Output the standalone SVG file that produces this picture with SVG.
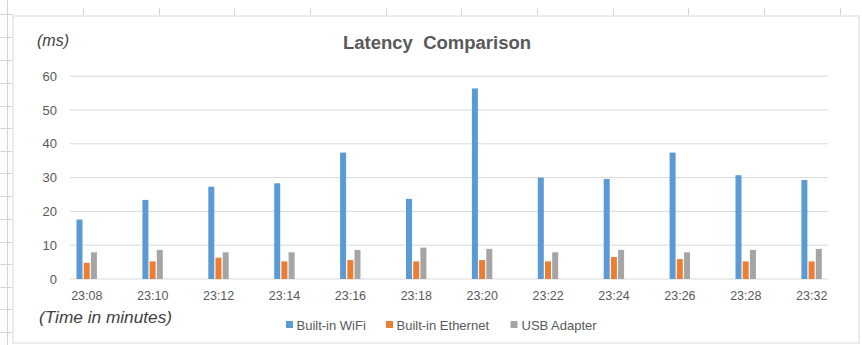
<svg xmlns="http://www.w3.org/2000/svg" width="862" height="345" viewBox="0 0 862 345">
<style>
.sheet{stroke:#d4d4d4;stroke-width:1;fill:none}
.grid{stroke:#d9d9d9;stroke-width:1}
.b{fill:#5b9bd5}
.o{fill:#ed7d31}
.g{fill:#a5a5a5}
.ax{font-family:"Liberation Sans",Arial,sans-serif;font-size:12.5px;fill:#595959}
.yl{font-family:"Liberation Sans",Arial,sans-serif;font-size:13px;fill:#595959;text-anchor:end}
.lg{font-family:"Liberation Sans",Arial,sans-serif;font-size:13px;fill:#595959}
.it{font-family:"Liberation Sans",Arial,sans-serif;font-size:16px;font-style:italic;fill:#404040}
.title{font-family:"Liberation Sans",Arial,sans-serif;font-size:18px;font-weight:bold;fill:#595959;text-anchor:middle;white-space:pre}
</style>
<rect width="862" height="345" fill="#ffffff"/>
<g id="sheet">
<line class="sheet" x1="7.5" y1="0" x2="7.5" y2="345"/>
<path class="sheet" d="M0 14.5H13M0 37.5H13M0 60.5H13M0 83.5H13M0 106.5H13M0 128.5H13M0 151.5H13M0 173.5H13M0 196.5H13M0 219.5H13M0 242.5H13M0 264.5H13M0 287.5H13M0 309.5H13M0 332.5H13"/>
<path class="sheet" d="M83.5 8V16M159.5 8V16M234.5 8V16M310.5 8V16M386.5 8V16M461.5 8V16M537.5 8V16M613.5 8V16M688.5 8V16M764.5 8V16M840.5 8V16"/>
</g>
<rect id="frame" x="13" y="16" width="846" height="327" fill="#ffffff" stroke="#ececec" stroke-width="2"/>
<g id="gridlines">
<line class="grid" x1="70" y1="279" x2="828" y2="279"/>
<line class="grid" x1="70" y1="245.2" x2="828" y2="245.2"/>
<line class="grid" x1="70" y1="211.4" x2="828" y2="211.4"/>
<line class="grid" x1="70" y1="177.6" x2="828" y2="177.6"/>
<line class="grid" x1="70" y1="143.8" x2="828" y2="143.8"/>
<line class="grid" x1="70" y1="110" x2="828" y2="110"/>
<line class="grid" x1="70" y1="76.2" x2="828" y2="76.2"/>
</g>
<g id="y-axis">
<text class="yl" x="57" y="283.5">0</text>
<text class="yl" x="57" y="249.7">10</text>
<text class="yl" x="57" y="215.9">20</text>
<text class="yl" x="57" y="182.1">30</text>
<text class="yl" x="57" y="148.3">40</text>
<text class="yl" x="57" y="114.5">50</text>
<text class="yl" x="57" y="80.7">60</text>
</g>
<text id="title" class="title" x="437" y="48.5" xml:space="preserve" textLength="188" lengthAdjust="spacingAndGlyphs">Latency  Comparison</text>
<text id="y-unit" class="it" x="37" y="46">(ms)</text>
<text id="x-unit" class="it" x="39" y="323" textLength="133" lengthAdjust="spacingAndGlyphs">(Time in minutes)</text>
<g id="c0" transform="translate(76.5,0)"><rect class="b" x="0" y="219.5" width="6" height="59.5"/><rect class="o" x="7.2" y="262.8" width="6" height="16.2"/><rect class="g" x="14.4" y="252.3" width="6" height="26.7"/><text class="ax" x="10.3" y="300" text-anchor="middle">23:08</text></g>
<g id="c1" transform="translate(142.4,0)"><rect class="b" x="0" y="199.9" width="6" height="79.1"/><rect class="o" x="7.2" y="261.4" width="6" height="17.6"/><rect class="g" x="14.4" y="249.9" width="6" height="29.1"/><text class="ax" x="10.3" y="300" text-anchor="middle">23:10</text></g>
<g id="c2" transform="translate(208.3,0)"><rect class="b" x="0" y="186.7" width="6" height="92.3"/><rect class="o" x="7.2" y="257.7" width="6" height="21.3"/><rect class="g" x="14.4" y="252.3" width="6" height="26.7"/><text class="ax" x="10.3" y="300" text-anchor="middle">23:12</text></g>
<g id="c3" transform="translate(274.2,0)"><rect class="b" x="0" y="183.3" width="6" height="95.7"/><rect class="o" x="7.2" y="261.4" width="6" height="17.6"/><rect class="g" x="14.4" y="252.3" width="6" height="26.7"/><text class="ax" x="10.3" y="300" text-anchor="middle">23:14</text></g>
<g id="c4" transform="translate(340.1,0)"><rect class="b" x="0" y="152.6" width="6" height="126.4"/><rect class="o" x="7.2" y="260.1" width="6" height="18.9"/><rect class="g" x="14.4" y="249.9" width="6" height="29.1"/><text class="ax" x="10.3" y="300" text-anchor="middle">23:16</text></g>
<g id="c5" transform="translate(406,0)"><rect class="b" x="0" y="198.9" width="6" height="80.1"/><rect class="o" x="7.2" y="261.4" width="6" height="17.6"/><rect class="g" x="14.4" y="247.6" width="6" height="31.4"/><text class="ax" x="10.3" y="300" text-anchor="middle">23:18</text></g>
<g id="c6" transform="translate(471.9,0)"><rect class="b" x="0" y="88.4" width="6" height="190.6"/><rect class="o" x="7.2" y="260.1" width="6" height="18.9"/><rect class="g" x="14.4" y="248.9" width="6" height="30.1"/><text class="ax" x="10.3" y="300" text-anchor="middle">23:20</text></g>
<g id="c7" transform="translate(537.8,0)"><rect class="b" x="0" y="177.6" width="6" height="101.4"/><rect class="o" x="7.2" y="261.4" width="6" height="17.6"/><rect class="g" x="14.4" y="252.3" width="6" height="26.7"/><text class="ax" x="10.3" y="300" text-anchor="middle">23:22</text></g>
<g id="c8" transform="translate(603.7,0)"><rect class="b" x="0" y="179" width="6" height="100"/><rect class="o" x="7.2" y="257" width="6" height="22"/><rect class="g" x="14.4" y="249.9" width="6" height="29.1"/><text class="ax" x="10.3" y="300" text-anchor="middle">23:24</text></g>
<g id="c9" transform="translate(669.6,0)"><rect class="b" x="0" y="152.6" width="6" height="126.4"/><rect class="o" x="7.2" y="259.1" width="6" height="19.9"/><rect class="g" x="14.4" y="252.3" width="6" height="26.7"/><text class="ax" x="10.3" y="300" text-anchor="middle">23:26</text></g>
<g id="c10" transform="translate(735.5,0)"><rect class="b" x="0" y="175.2" width="6" height="103.8"/><rect class="o" x="7.2" y="261.4" width="6" height="17.6"/><rect class="g" x="14.4" y="249.9" width="6" height="29.1"/><text class="ax" x="10.3" y="300" text-anchor="middle">23:28</text></g>
<g id="c11" transform="translate(801.4,0)"><rect class="b" x="0" y="180" width="6" height="99"/><rect class="o" x="7.2" y="261.4" width="6" height="17.6"/><rect class="g" x="14.4" y="248.9" width="6" height="30.1"/><text class="ax" x="10.3" y="300" text-anchor="middle">23:32</text></g>
<g id="legend">
<rect class="b" x="286" y="321" width="7" height="7"/><text class="lg" x="296.5" y="329.5">Built-in WiFi</text>
<rect class="o" x="386" y="321" width="7" height="7"/><text class="lg" x="396.5" y="329.5">Built-in Ethernet</text>
<rect class="g" x="510.5" y="321" width="7" height="7"/><text class="lg" x="521.5" y="329.5">USB Adapter</text>
</g>
</svg>
